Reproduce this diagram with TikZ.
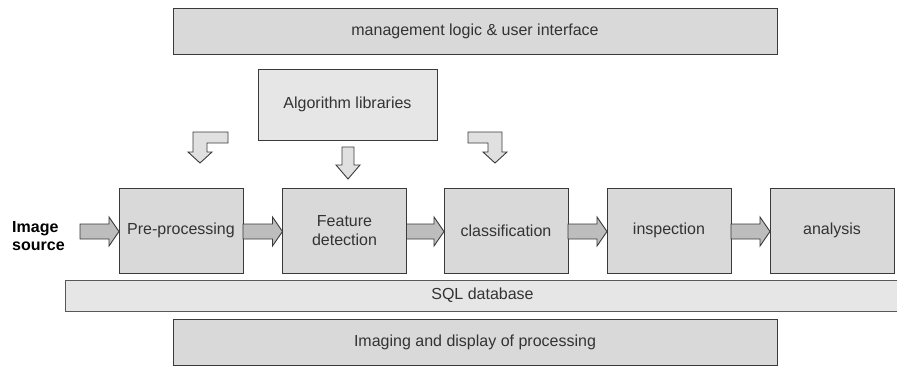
\documentclass[tikz,border=0pt]{standalone}
\usepackage{fontspec}
\setmainfont{Liberation Sans}
\usetikzlibrary{calc}
\definecolor{boxfill}{HTML}{D9D9D9}
\definecolor{lightfill}{HTML}{E6E6E6}
\definecolor{arrowfill}{HTML}{BDBDBD}
\definecolor{larrowfill}{HTML}{E0E0E0}
\definecolor{edge}{HTML}{3A3A3A}
\definecolor{txt}{HTML}{333333}
\tikzset{
  stagebox/.style={draw=edge, line width=1pt, fill=boxfill, minimum width=124pt, minimum height=85pt, inner sep=0pt, outer sep=0pt, text=txt, align=center, font=\fontsize{16}{19}\selectfont},
  widebox/.style={draw=edge, line width=1pt, fill=boxfill, inner sep=0pt, outer sep=0pt, text=txt, align=center, font=\fontsize{16}{19}\selectfont},
  harrow/.style={draw=edge, line width=0.9pt, fill=arrowfill, line join=miter},
  varrow/.style={draw=edge, line width=0.9pt, fill=larrowfill, line join=miter}
}
\newcommand{\blockarrow}[2]{%
  \draw[harrow] let \p1=(#1), \p2=(#2) in
    (\x1,\y1+7.5pt) -- (\x2-10pt,\y1+7.5pt) -- (\x2-10pt,\y1+14.5pt) -- (\x2,\y1)
    -- (\x2-10pt,\y1-14.5pt) -- (\x2-10pt,\y1-7.5pt) -- (\x1,\y1-7.5pt) -- cycle;}
\begin{document}
\begin{tikzpicture}[x=1pt,y=-1pt]
\useasboundingbox (0,0) rectangle (897,368);
% top
\node[widebox, minimum width=604pt, minimum height=46pt] (mgmt) at (475,31) {management logic \& user interface};
\node[widebox, fill=lightfill, minimum width=179pt, minimum height=71pt] (alg) at (347.5,104.5) {Algorithm libraries};
% stages
\node[stagebox] (pre) at (181,230.5) {Pre-processing};
\node[stagebox] (feat) at (344.5,230.5) {Feature\\detection};
\node[stagebox] (cls) at (506,230.5) {classification};
\node[stagebox] (insp) at (669,230.5) {inspection};
\node[stagebox] (anal) at (832,230.5) {analysis};
% bottom
\node[widebox, fill=lightfill, draw=edge!85, minimum width=835pt, minimum height=31pt] (sql) at (482.5,295.5) {SQL database};
\node[widebox, minimum width=604pt, minimum height=46pt] (img) at (475,342) {Imaging and display of processing};
% image source
\node[anchor=west, align=left, inner sep=0pt, font=\bfseries\fontsize{16}{18}\selectfont] (src) at (12,236) {Image\\source};
\coordinate (srcend) at (80,231.5);
% horizontal block arrows
\blockarrow{srcend}{pre.west |- srcend}
\blockarrow{pre.east |- srcend}{feat.west |- srcend}
\blockarrow{feat.east |- srcend}{cls.west |- srcend}
\blockarrow{cls.east |- srcend}{insp.west |- srcend}
\blockarrow{insp.east |- srcend}{anal.west |- srcend}
% down arrow from algorithm libraries
\draw[varrow] let \p1=($(alg.south)+(0.5,7)$), \p2=($(feat.north)+(0,-9)$) in
  (\x1-6pt,\y1) -- (\x1+6pt,\y1) -- (\x1+6pt,\y2+14pt) -- (\x1+12pt,\y2+14pt) -- (\x1,\y2)
  -- (\x1-12pt,\y2+14pt) -- (\x1-6pt,\y2+14pt) -- cycle;
% L-shaped arrows
\draw[varrow] (228,132) -- (193,132) -- (193,152) -- (188,152) -- (200,163) -- (212,152)
  -- (207,152) -- (207,143) -- (228,143) -- cycle;
\draw[varrow] (468,132) -- (502,132) -- (502,152) -- (507,152) -- (495,163) -- (483,152)
  -- (488,152) -- (488,143) -- (468,143) -- cycle;
\end{tikzpicture}
\end{document}
